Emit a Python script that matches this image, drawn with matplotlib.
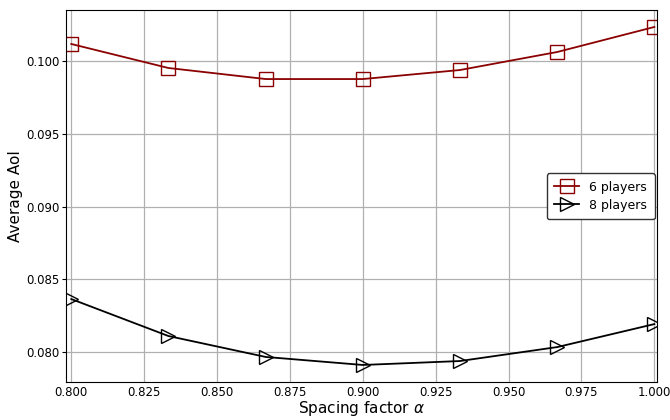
import matplotlib
matplotlib.use("Agg")
from matplotlib import pyplot as plt

alphas = [0.8, 0.8333, 0.8667, 0.9, 0.9333, 0.9667, 1.0]
aoi_6 = [0.10117, 0.09952, 0.09876, 0.09876, 0.09938, 0.10062, 0.10234]
aoi_8 = [0.08364, 0.08110, 0.07966, 0.07911, 0.07938, 0.08034, 0.08192]

fig, ax = plt.subplots(figsize=(6.7, 4.2), dpi=100)
ax.plot(alphas, aoi_6, color='#8b0000', marker='s', markersize=10,
        markerfacecolor='none', linewidth=1.3, label='6 players')
ax.plot(alphas, aoi_8, color='black', marker='>', markersize=10,
        markerfacecolor='none', linewidth=1.3, label='8 players')

ax.set_xlim(0.7983, 1.0010)
ax.set_ylim(0.07794, 0.1035)
ax.set_xticks([0.8, 0.825, 0.85, 0.875, 0.9, 0.925, 0.95, 0.975, 1.0])
ax.set_xticklabels(['0.800', '0.825', '0.850', '0.875', '0.900', '0.925', '0.950', '0.975', '1.000'])
ax.set_yticks([0.08, 0.085, 0.09, 0.095, 0.1])
ax.set_yticklabels(['0.080', '0.085', '0.090', '0.095', '0.100'])
ax.tick_params(labelsize=8.5)
ax.tick_params(axis='x', length=0, pad=3)
ax.tick_params(axis='y', length=3, pad=2)
ax.grid(True, color='#b0b0b0', linewidth=0.9)
ax.set_xlabel(r'Spacing factor $\alpha$', fontsize=11, labelpad=0)
ax.set_ylabel('Average AoI', fontsize=11, labelpad=2)
ax.legend(loc='center right', bbox_to_anchor=(1.0, 0.5), fontsize=9,
          borderaxespad=0.2, borderpad=0.6, labelspacing=0.4,
          framealpha=1, edgecolor='#333333', fancybox=True)

fig.subplots_adjust(left=0.099, right=0.981, top=0.976, bottom=0.0905)
fig.savefig('out.png', dpi=100)
